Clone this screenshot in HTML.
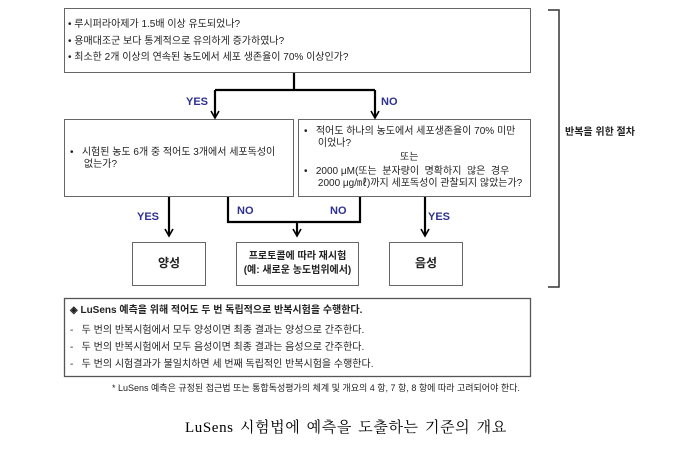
<!DOCTYPE html>
<html><head><meta charset="utf-8"><style>
body{margin:0;width:676px;height:450px;background:#fff;position:relative;overflow:hidden;font-family:"Liberation Sans","Noto Sans CJK KR",sans-serif;color:#222}
.t{position:absolute;white-space:nowrap;font-size:10px;line-height:12px}
.b{font-weight:bold}
.lab{position:absolute;font-size:11px;font-weight:bold;color:#2e3192}
</style></head><body>
<svg width="676" height="450" style="position:absolute;left:0;top:0">
<g fill="none" stroke="#666" stroke-width="1">
<rect x="64.5" y="8.5" width="466" height="64"/>
<rect x="64.5" y="119.5" width="229" height="77"/>
<rect x="298.5" y="119.5" width="232" height="77"/>
<rect x="132.5" y="242.5" width="73" height="43"/>
<rect x="236.5" y="242.5" width="122" height="43"/>
<rect x="389.5" y="242.5" width="73" height="43"/>
<rect x="64.5" y="298.5" width="466" height="78" stroke="#555" stroke-width="1.3"/>
</g>
<g fill="none" stroke="#000" stroke-width="2.2">
<path d="M294,73 V90 M215,90 H375 M215,90 V117 M375,90 V117"/>
<path d="M169,197 V235"/>
<path d="M228,197 V222 H360 V197"/>
<path d="M297,222 V235"/>
<path d="M425,197 V235"/>
</g>
<g fill="none" stroke="#000" stroke-width="1.6">
<path d="M211,111 L215,118 L219,111"/>
<path d="M371,111 L375,118 L379,111"/>
<path d="M165,229 L169,236 L173,229"/>
<path d="M293,229 L297,236 L301,229"/>
<path d="M421,229 L425,236 L429,229"/>
</g>
<path d="M548,10 H559 V287 H548" fill="none" stroke="#333" stroke-width="1.5"/>
</svg>
<div class="t" style="left:68px;top:19px">• 루시퍼라아제가 1.5배 이상 유도되었나?</div>
<div class="t" style="left:68px;top:36px">• 용매대조군 보다 통계적으로 유의하게 증가하였나?</div>
<div class="t" style="left:68px;top:52px">• 최소한 2개 이상의 연속된 농도에서 세포 생존율이 70% 이상인가?</div>
<div class="lab" style="left:186px;top:96px">YES</div>
<div class="lab" style="left:381px;top:96px">NO</div>
<div class="t" style="left:70px;top:147px">•&nbsp;&nbsp; 시험된 농도 6개 중 적어도 3개에서 세포독성이<br>&nbsp;&nbsp;&nbsp;&nbsp; 없는가?</div>
<div class="t" style="left:304px;top:126px">•&nbsp;&nbsp; 적어도 하나의 농도에서 세포생존율이 70% 미만<br>&nbsp;&nbsp;&nbsp;&nbsp; 이었나?</div>
<div class="t" style="left:400px;top:152px">또는</div>
<div class="t" style="left:304px;top:166px">•&nbsp;&nbsp; 2000 μM(또는&nbsp; 분자량이&nbsp; 명확하지&nbsp; 않은&nbsp; 경우<br>&nbsp;&nbsp;&nbsp;&nbsp; 2000 μg/㎖)까지 세포독성이 관찰되지 않았는가?</div>
<div class="lab" style="left:137px;top:211px">YES</div>
<div class="lab" style="left:237px;top:205px">NO</div>
<div class="lab" style="left:330px;top:205px">NO</div>
<div class="lab" style="left:428px;top:211px">YES</div>
<div class="t b" style="left:565px;top:127px;font-size:10px">반복을 위한 절차</div>
<div class="t b" style="left:132px;top:257px;width:74px;text-align:center;font-size:12px">양성</div>
<div class="t b" style="left:236px;top:250px;width:123px;text-align:center;font-size:10px;line-height:14px">프로토콜에 따라 재시험<br>(예: 새로운 농도범위에서)</div>
<div class="t b" style="left:389px;top:257px;width:74px;text-align:center;font-size:12px">음성</div>
<div class="t b" style="left:70px;top:305px">◈ LuSens 예측을 위해 적어도 두 번 독립적으로 반복시험을 수행한다.</div>
<div class="t" style="left:70px;top:325px">-&nbsp;&nbsp; 두 번의 반복시험에서 모두 양성이면 최종 결과는 양성으로 간주한다.</div>
<div class="t" style="left:70px;top:342px">-&nbsp;&nbsp; 두 번의 반복시험에서 모두 음성이면 최종 결과는 음성으로 간주한다.</div>
<div class="t" style="left:70px;top:359px">-&nbsp;&nbsp; 두 번의 시험결과가 불일치하면 세 번째 독립적인 반복시험을 수행한다.</div>
<div class="t" style="left:112px;top:382px;font-size:9px">* LuSens 예측은 규정된 접근법 또는 통합독성평가의 체계 및 개요의 4 항, 7 항, 8 항에 따라 고려되어야 한다.</div>
<div class="t" style="left:185px;top:419px;font-size:15px;line-height:18px;word-spacing:2px;letter-spacing:0.6px;font-family:'Liberation Serif','Noto Serif CJK SC',serif;color:#000">LuSens 시험법에 예측을 도출하는 기준의 개요</div>
</body></html>
